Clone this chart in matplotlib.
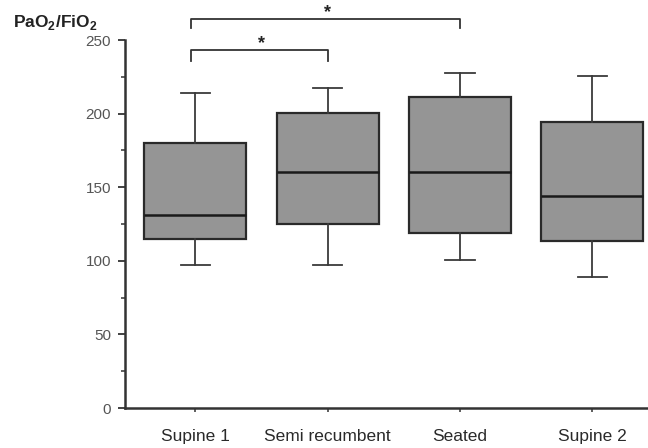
import matplotlib
matplotlib.use("Agg")
import matplotlib.pyplot as plt

plt.rcParams['font.family'] = ['Liberation Sans', 'DejaVu Sans']
plt.rcParams['mathtext.fontset'] = 'custom'
plt.rcParams['mathtext.rm'] = 'Liberation Sans'
plt.rcParams['mathtext.bf'] = 'Liberation Sans:bold'

categories = ["Supine 1", "Semi recumbent", "Seated", "Supine 2"]
whisker_low = [97, 97, 100.5, 89]
q1 = [115, 125, 119, 113.5]
median = [131, 160, 160, 144]
q3 = [180, 200.5, 211.5, 194]
whisker_high = [214, 217.5, 227.5, 225.5]

brackets = [(0, 1, 243, 236), (0, 2, 264.5, 258)]  # (from, to, top, drop-end)

fig = plt.figure(figsize=(6.48, 4.48), dpi=100)
ax = fig.add_axes([125/648, 1-408/448, 1-125/648, 368/448])

stats = []
for i, c in enumerate(categories):
    stats.append(dict(label=c, whislo=whisker_low[i], q1=q1[i], med=median[i],
                      q3=q3[i], whishi=whisker_high[i], fliers=[]))

pos = list(range(len(categories)))
ax.bxp(stats, positions=pos, widths=0.77, showfliers=False, patch_artist=True,
       boxprops=dict(facecolor='#959595', edgecolor='#2a2a2a', linewidth=1.6),
       medianprops=dict(color='#1a1a1a', linewidth=1.8),
       whiskerprops=dict(color='#3a3a3a', linewidth=1.3),
       capprops=dict(color='#3a3a3a', linewidth=1.3),
       capwidths=0.22)

ax.set_xlim(-0.53, 3.42)
ax.set_ylim(0, 250)
ax.set_yticks([0, 50, 100, 150, 200, 250])
ax.set_yticks([25, 75, 125, 175, 225], minor=True)
ax.set_xticks(pos)
ax.set_xticklabels(categories, fontsize=12.5, color='#2a2a2a')
ax.tick_params(axis='y', which='major', length=5, width=1.3, color='#333333',
               labelsize=11, labelcolor='#555555', pad=5)
ax.tick_params(axis='y', which='minor', length=3, width=1.1, color='#333333')
ax.tick_params(axis='x', length=3, width=1.1, color='#333333', pad=12)

for s in ['top', 'right']:
    ax.spines[s].set_visible(False)
for s in ['left', 'bottom']:
    ax.spines[s].set_linewidth(1.8)
    ax.spines[s].set_color('#333333')

for a, b, top, low in brackets:
    ax.plot([a - 0.03, a - 0.03, b, b], [low, top, top, low], color='#333333',
            lw=1.3, clip_on=False)
    ax.text((a + b) / 2, top - 1.5, '*', ha='center', va='bottom', fontsize=13,
            fontweight='bold', color='#222222', clip_on=False)

fig.text(13/648, 1-27/448, r'PaO$_\mathbf{2}$/FiO$_\mathbf{2}$', fontsize=12.5,
         fontweight='bold', color='#222222', ha='left', va='baseline')

fig.savefig('out.png', dpi=100)
